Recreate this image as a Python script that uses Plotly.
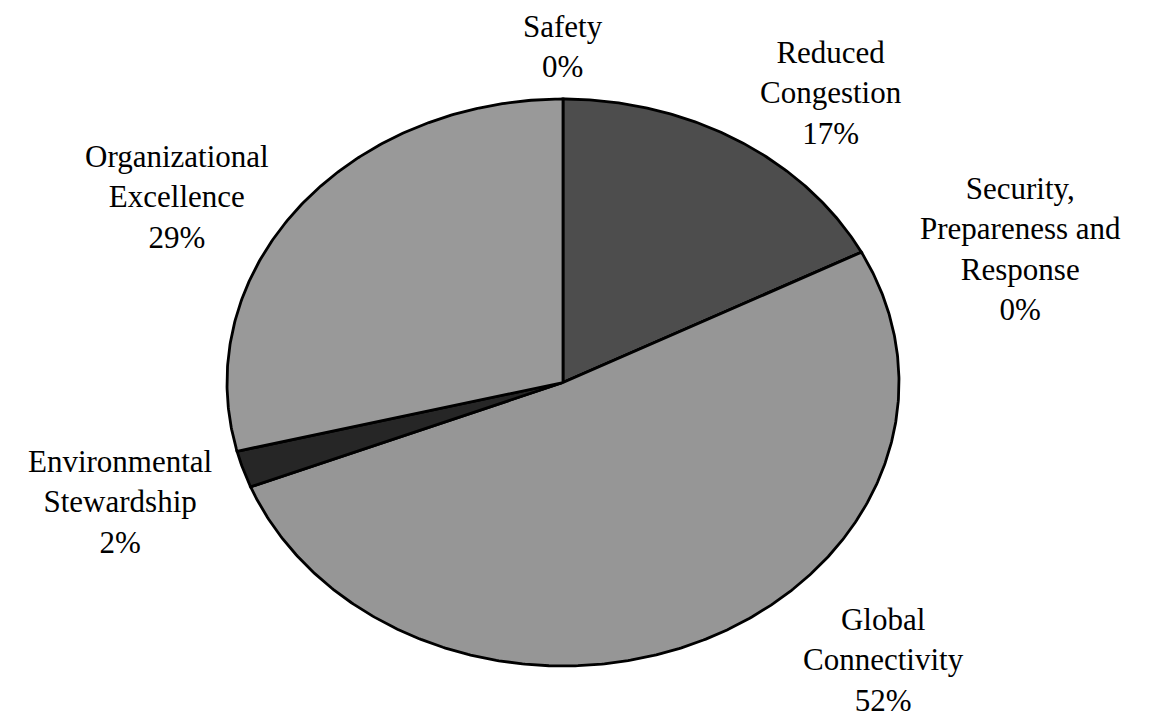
import numpy as np
import plotly.graph_objects as go

# ---- data ----
categories = ["Safety", "Reduced<br>Congestion", "Security,<br>Prepareness and<br>Response",
              "Global<br>Connectivity", "Environmental<br>Stewardship", "Organizational<br>Excellence"]
values = [0.0, 17.4, 0.0, 51.6, 2.1, 28.9]
pct_labels = ["0%", "17%", "0%", "52%", "2%", "29%"]

# ---- style / layout ----
colors = ["#9a9a9a", "#4d4d4d", "#969696", "#969696", "#262626", "#999999"]
W, H = 1155, 717
cx_px, cy_px, rx_px, ry_px = 563, 382.5, 336, 283.5
# label centers in pixels (layout)
label_pos = [(563, 46), (831, 93), (1020, 249), (883, 660), (120, 502), (177, 197)]

xr = [-cx_px / rx_px, (W - cx_px) / rx_px]
yr = [-(H - cy_px) / ry_px, cy_px / ry_px]

fig = go.Figure()
total = sum(values)
start = 0.0
for name, v, c in zip(categories, values, colors):
    a0 = start / total * 2 * np.pi
    a1 = (start + v) / total * 2 * np.pi
    start += v
    n = max(2, int(v * 8))
    th = np.linspace(a0, a1, n)
    xs = np.concatenate([[0], np.sin(th), [0]])
    ys = np.concatenate([[0], np.cos(th), [0]])
    fig.add_trace(go.Scatter(x=xs, y=ys, mode="lines", fill="toself", fillcolor=c,
                             line=dict(color="black", width=2.8), name=name.replace("<br>", " "),
                             hoverinfo="name", showlegend=False))

for name, pct, (px, py) in zip(categories, pct_labels, label_pos):
    fig.add_annotation(x=px / W, y=1 - py / H, xref="paper", yref="paper",
                       text=f"{name}<br>{pct}", showarrow=False, xanchor="center",
                       yanchor="middle", align="center",
                       font=dict(family="Liberation Serif, Times New Roman, serif", size=31, color="black"))

fig.update_xaxes(range=xr, visible=False, fixedrange=True)
fig.update_yaxes(range=yr, visible=False, fixedrange=True)
fig.update_layout(width=W, height=H, margin=dict(l=0, r=0, t=0, b=0),
                  plot_bgcolor="white", paper_bgcolor="white", showlegend=False)
fig.write_html("out.html")
